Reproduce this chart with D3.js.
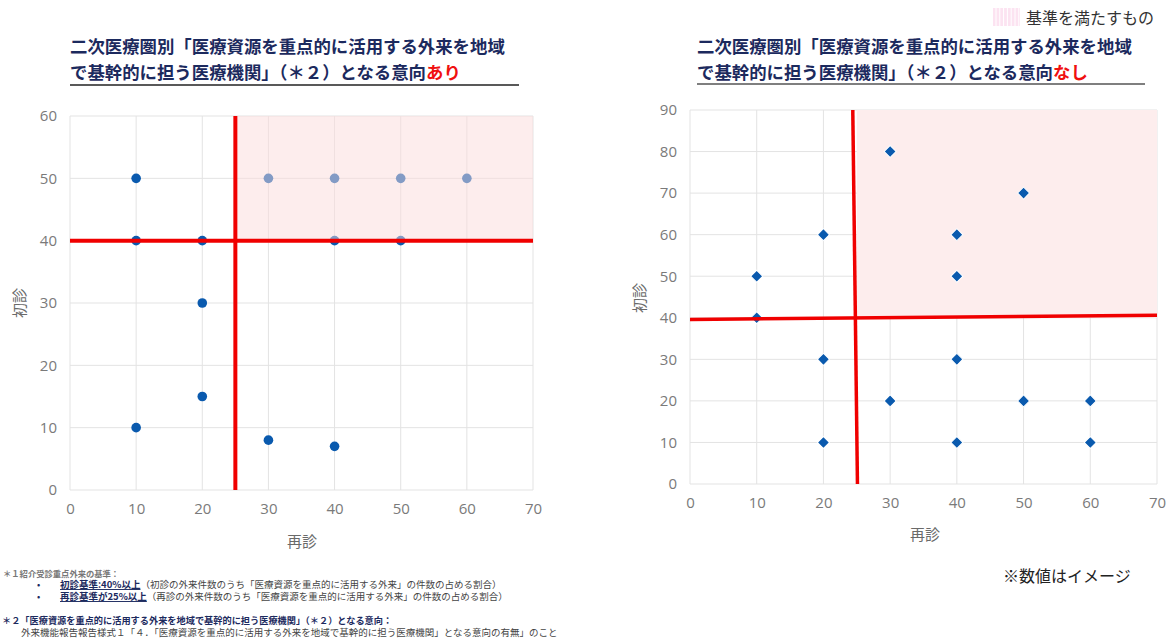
<!DOCTYPE html>
<html>
<head>
<meta charset="utf-8">
<script src="https://cdn.jsdelivr.net/npm/d3@7"></script>
<style>
  body { margin: 0; background: #fff; }
  svg { font-family: "Noto Sans CJK JP", "Noto Sans", sans-serif; }
  .grid line { stroke: #e3e3e3; stroke-width: 1; }
</style>
</head>
<body>
<svg id="chart" width="1175" height="639"></svg>
<script>
// ----- data
const leftX = [10, 10, 20, 20, 20, 10, 30, 40, 40, 50, 30, 40, 50, 60];
const leftY = [50, 40, 40, 30, 15, 10, 8, 7, 40, 40, 50, 50, 50, 50];
const rightX = [10, 10, 20, 20, 20, 30, 30, 40, 40, 40, 40, 50, 50, 60, 60];
const rightY = [50, 40, 60, 30, 10, 80, 20, 60, 50, 30, 10, 70, 20, 20, 10];
const xTicks = [0, 10, 20, 30, 40, 50, 60, 70];
const leftYTicks = [0, 10, 20, 30, 40, 50, 60];
const rightYTicks = [0, 10, 20, 30, 40, 50, 60, 70, 80, 90];
// threshold lines as drawn (right one is hand-drawn, slightly tilted)
const leftVLine = [[25, 60], [25, 0]];
const leftHLine = [[0, 40], [70, 40]];
const rightVLine = [[24.4, 90], [25.1, 0]];
const rightHLine = [[0, 39.6], [70, 40.6]];
const titleLine1 = '二次医療圏別「医療資源を重点的に活用する外来を地域';
const titleLine2 = 'で基幹的に担う医療機関」（＊２）となる意向';

const svg = d3.select('#chart');
const navy = '#1c2a5e';
const dotBlue = '#0a5aae';
const red = '#f00000';

function drawChart(opts) {
    const x = d3.scaleLinear().domain([0, 70]).range([opts.left, opts.right]);
    const y = d3.scaleLinear().domain([0, opts.yMax]).range([opts.bottom, opts.top]);
    const g = svg.append('g');

    // grid
    const grid = g.append('g').attr('class', 'grid');
    grid.selectAll('.gx').data(xTicks).join('line')
        .attr('x1', d => x(d)).attr('x2', d => x(d))
        .attr('y1', y(0)).attr('y2', y(opts.yMax));
    grid.selectAll('.gy').data(opts.yTicks).join('line')
        .attr('x1', x(0)).attr('x2', x(70))
        .attr('y1', d => y(d)).attr('y2', d => y(d));

    const shade = () => g.append('rect')
        .attr('x', x(25)).attr('y', y(opts.yMax))
        .attr('width', x(70) - x(25)).attr('height', y(40) - y(opts.yMax))
        .attr('fill', opts.shadeFill).attr('opacity', opts.shadeOpacity);

    if (!opts.shadeOnTop) shade();

    // axes
    const xAxis = g.append('g').attr('transform', `translate(0,${opts.bottom})`)
        .call(d3.axisBottom(x).tickValues(xTicks).tickSize(0).tickPadding(opts.xPad));
    xAxis.select('.domain').remove();
    const yAxis = g.append('g').attr('transform', `translate(${opts.left},0)`)
        .call(d3.axisLeft(y).tickValues(opts.yTicks).tickSize(0).tickPadding(opts.yPad));
    yAxis.select('.domain').remove();
    g.selectAll('.tick text').attr('fill', '#7a7a7a').attr('font-size', 15)
        .attr('font-family', '"Open Sans", "Noto Sans", sans-serif');

    // points
    const pts = opts.xs.map((v, i) => [v, opts.ys[i]]);
    if (opts.diamond) {
        g.selectAll('.pt').data(pts).join('path')
            .attr('d', d3.symbol(d3.symbolSquare, 72))
            .attr('transform', d => `translate(${x(d[0])},${y(d[1])}) rotate(45)`)
            .attr('fill', dotBlue).attr('stroke', '#fff').attr('stroke-width', 1);
    } else {
        g.selectAll('.pt').data(pts).join('circle')
            .attr('cx', d => x(d[0])).attr('cy', d => y(d[1])).attr('r', 4.8)
            .attr('fill', dotBlue);
    }

    if (opts.shadeOnTop) shade();

    // threshold lines
    const line = d3.line().x(d => x(d[0])).y(d => y(d[1]));
    [opts.vLine, opts.hLine].forEach(l => {
        g.append('path').attr('d', line(l)).attr('stroke', red)
            .attr('stroke-width', opts.redWidth).attr('fill', 'none');
    });

    // axis titles
    g.append('text').attr('transform', `translate(${opts.yTitleX},${opts.yTitleY}) rotate(-90)`)
        .attr('text-anchor', 'middle').attr('dominant-baseline', 'central')
        .attr('fill', '#6a6a6a').attr('font-size', 15).text('初診');
    g.append('text').attr('x', opts.xTitleX).attr('y', opts.xTitleY)
        .attr('text-anchor', 'middle').attr('dominant-baseline', 'central')
        .attr('fill', '#6a6a6a').attr('font-size', 15).text('再診');

    // title
    const t = g.append('text').attr('fill', navy).attr('font-weight', 'bold').attr('font-size', 17.4);
    t.append('tspan').attr('x', opts.titleX).attr('y', 53).text(titleLine1);
    t.append('tspan').attr('x', opts.titleX).attr('y', 79).text(titleLine2);
    t.append('tspan').attr('fill', '#f01010').text(opts.titleTail);
    g.append('line').attr('x1', opts.titleX).attr('x2', opts.ulineEnd)
        .attr('y1', opts.ulineY).attr('y2', opts.ulineY)
        .attr('stroke', opts.ulineColor).attr('stroke-width', 1.5);
}

drawChart({
    left: 70, right: 533, top: 116, bottom: 490, yMax: 60, yTicks: leftYTicks,
    xs: leftX, ys: leftY, diamond: false,
    shadeFill: '#fbdcdc', shadeOpacity: 0.5, shadeOnTop: true,
    vLine: leftVLine, hLine: leftHLine, redWidth: 4,
    xPad: 13, yPad: 13,
    yTitleX: 18, yTitleY: 303, xTitleX: 302, xTitleY: 540,
    titleX: 70, titleTail: 'あり', ulineEnd: 519, ulineY: 85, ulineColor: '#222'
});

drawChart({
    left: 690, right: 1157, top: 110, bottom: 484, yMax: 90, yTicks: rightYTicks,
    xs: rightX, ys: rightY, diamond: true,
    shadeFill: '#fdeded', shadeOpacity: 1, shadeOnTop: false,
    vLine: rightVLine, hLine: rightHLine, redWidth: 3.5,
    xPad: 13, yPad: 13,
    yTitleX: 638, yTitleY: 298, xTitleX: 925, xTitleY: 533,
    titleX: 697, titleTail: 'なし', ulineEnd: 1145, ulineY: 84, ulineColor: '#555'
});

// ----- legend
const leg = svg.append('g');
leg.append('rect').attr('x', 993).attr('y', 8).attr('width', 27).attr('height', 18).attr('fill', '#fce3f1');
leg.selectAll('.st').data(d3.range(0, 7)).join('line')
    .attr('x1', d => 996 + d * 3.8).attr('x2', d => 996 + d * 3.8)
    .attr('y1', 8).attr('y2', 26).attr('stroke', '#fff').attr('stroke-width', 1);
leg.append('text').attr('x', 1026).attr('y', 17).attr('dominant-baseline', 'central')
    .attr('font-size', 16).attr('fill', '#333').text('基準を満たすもの');

svg.append('text').attr('x', 1003).attr('y', 575).attr('dominant-baseline', 'central')
    .attr('font-size', 16).attr('fill', '#222').text('※数値はイメージ');

// ----- footnotes
const notes = svg.append('g').attr('font-size', 9.5);
notes.append('text').attr('x', 3).attr('y', 577).attr('font-size', 8.3)
    .attr('font-weight', 'bold').attr('fill', '#777').text('＊１紹介受診重点外来の基準：');
[['初診基準:40%以上', '（初診の外来件数のうち「医療資源を重点的に活用する外来」の件数の占める割合）', 588],
 ['再診基準が25%以上', '（再診の外来件数のうち「医療資源を重点的に活用する外来」の件数の占める割合）', 600]]
    .forEach(([head, tail, yy]) => {
        notes.append('text').attr('x', 37).attr('y', yy).attr('fill', navy).text('•');
        const tx = notes.append('text').attr('x', 60).attr('y', yy);
        tx.append('tspan').attr('fill', navy).attr('font-weight', 'bold')
            .attr('text-decoration', 'underline').text(head);
        tx.append('tspan').attr('fill', '#444').text(tail);
    });
notes.append('text').attr('x', 2).attr('y', 624).attr('fill', navy).attr('font-weight', 'bold')
    .attr('font-size', 9.2)
    .text('＊２「医療資源を重点的に活用する外来を地域で基幹的に担う医療機関」（＊２）となる意向：');
notes.append('text').attr('x', 21).attr('y', 636).attr('fill', '#444')
    .text('外来機能報告報告様式１「４．「医療資源を重点的に活用する外来を地域で基幹的に担う医療機関」となる意向の有無」のこと');
</script>
</body>
</html>
